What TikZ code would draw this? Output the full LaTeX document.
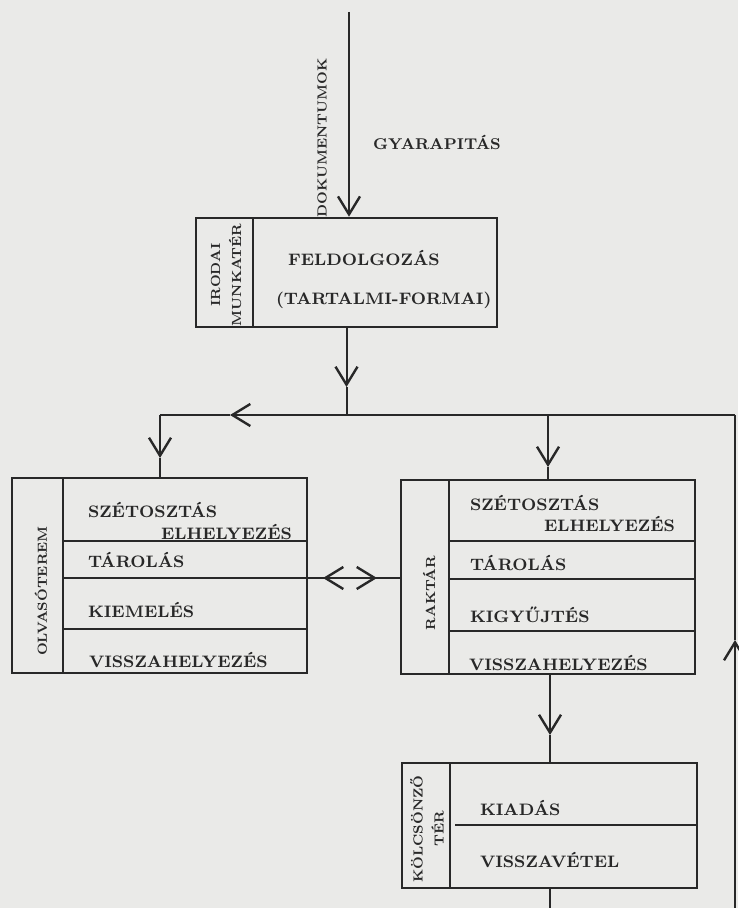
\documentclass[tikz,border=0pt]{standalone}
\usetikzlibrary{arrows.meta, fit, positioning}
\definecolor{papir}{RGB}{234,234,232}
\definecolor{tinta}{RGB}{40,40,40}
\tikzset{next/.style={-{Straight Barb[length=9pt, width=11pt, line width=1.2pt]}}}
\tikzset{terem/.style={draw, line width=1.3pt, inner sep=0pt}}
\tikzset{felirat/.style={font=\bfseries\fontsize{8.3}{9}\selectfont, inner sep=1pt, anchor=west}}
\tikzset{oldal/.style={font=\bfseries\fontsize{6.6}{10.5}\selectfont, rotate=90, align=center, inner sep=0pt}}
\newcommand{\sorvonal}[3]{\draw[line width=1.1pt] (#1,#3) -- (#2,#3);}

\begin{document}
\begin{tikzpicture}[x=0.5pt, y=-0.5pt, line width=1pt, draw=tinta, text=tinta]
  \fill[papir] (0,0) rectangle (738,908);
  \useasboundingbox (0,0) rectangle (738,908);

  % --- irodai munkater ---
  \node[terem, fit={(196,218) (497,327)}] (iroda) {};
  \draw[line width=1.3pt] (253,218) -- (253,327);
  \node[oldal] (irodaL) at (226,275) {IRODAI\\MUNKATÉR};
  \node[felirat] (feldolg) at (285,258) {FELDOLGOZÁS};
  \node[felirat] (tartalmi) at (273,300) {(TARTALMI-FORMAI)};

  \coordinate (be) at (349,12);
  \draw[next] (be) -- (be |- iroda.north);
  \node[oldal] (dok) at (322,138) {DOKUMENTUMOK};
  \node[felirat, font=\bfseries\fontsize{7.8}{9}\selectfont] (gyar) at (370,142) {GYARAPITÁS};

  % --- elagazas ---
  \coordinate (elag) at (346.5,415);
  \coordinate (t1) at (346.5,387);
  \coordinate (balsarok) at (160,415);
  \coordinate (t2) at (230,415);
  \coordinate (jelag) at (548,415);
  \coordinate (jobbsarok) at (735,415);
  \draw[next] (iroda.south) -- (t1);
  \draw (t1) -- (elag);
  \draw (elag) -- (jobbsarok);
  \draw[next] (elag) -- (t2);
  \draw (t2) -- (balsarok);

  % --- olvasoterem ---
  \node[terem, fit={(12,478) (307,673)}] (olvaso) {};
  \draw[line width=1.3pt] (63,478) -- (63,673);
  \foreach \y in {541,578,629} {\sorvonal{63}{307}{\y}}
  \node[oldal] (olvasoL) at (41,591) {OLVASÓTEREM};
  \node[felirat] (oszet) at (85,510) {SZÉTOSZTÁS};
  \node[felirat] (oelh) at (158,532) {ELHELYEZÉS};
  \node[felirat] (otar) at (85,560) {TÁROLÁS};
  \node[felirat] (okiem) at (85,610) {KIEMELÉS};
  \node[felirat] (ovissza) at (86,660) {VISSZAHELYEZÉS};

  \coordinate (t3) at (160,458);
  \draw[next] (balsarok) -- (t3);
  \draw (t3) -- (balsarok |- olvaso.north);

  % --- raktar ---
  \node[terem, fit={(401,480) (695,674)}] (raktar) {};
  \draw[line width=1.3pt] (449,480) -- (449,674);
  \foreach \y in {541,579,631} {\sorvonal{449}{695}{\y}}
  \node[oldal] (raktarL) at (429,593) {RAKTÁR};
  \node[felirat] (rszet) at (467,503) {SZÉTOSZTÁS};
  \node[felirat] (relh) at (541,524) {ELHELYEZÉS};
  \node[felirat] (rtar) at (467,563) {TÁROLÁS};
  \node[felirat] (rkigy) at (467,615) {KIGYŰJTÉS};
  \node[felirat] (rvissza) at (466,663) {VISSZAHELYEZÉS};

  \coordinate (t4) at (548,467);
  \draw[next] (jelag) -- (t4);
  \draw (t4) -- (jelag |- raktar.north);

  % --- olvaso <-> raktar ---
  \coordinate (kb) at (323,578);
  \coordinate (kj) at (377,578);
  \draw[next] (kj) -- (kb);
  \draw (kb) -- (kb -| olvaso.east);
  \draw[next] (kb) -- (kj);
  \draw (kj) -- (kj -| raktar.west);

  % --- kolcsonzo ter ---
  \node[terem, fit={(402,763) (697,888)}] (kolcson) {};
  \draw[line width=1.3pt] (450,763) -- (450,888);
  \sorvonal{455}{697}{825}
  \node[oldal] (kolcsonL) at (427,829) {KÖLCSÖNZŐ\\TÉR};
  \node[felirat] (kiad) at (477,808) {KIADÁS};
  \node[felirat] (visszav) at (477,860) {VISSZAVÉTEL};

  \coordinate (rki) at (550,674);
  \coordinate (t5) at (550,735);
  \draw[next] (rki) -- (t5);
  \draw (t5) -- (t5 |- kolcson.north);

  % --- visszacsatolas ---
  \coordinate (ki) at (550,908);
  \coordinate (alsosarok) at (735,908);
  \coordinate (t6) at (735,640);
  \draw (ki |- kolcson.south) -- (ki);
  \draw[next] (alsosarok) -- (t6);
  \draw (t6) -- (jobbsarok);

\end{tikzpicture}
\end{document}
